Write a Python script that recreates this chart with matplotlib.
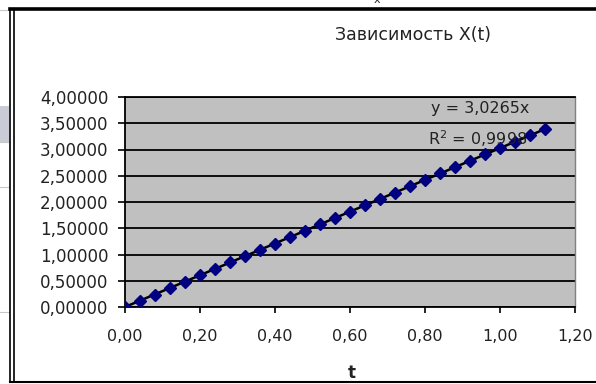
import matplotlib
matplotlib.use("Agg")
import matplotlib.pyplot as plt
from matplotlib.lines import Line2D
from matplotlib.patches import Rectangle

plt.rcParams["font.family"] = ["DejaVu Sans"]

# измерения: время и координата
t = [0.00, 0.04, 0.08, 0.12, 0.16, 0.20, 0.24, 0.28, 0.32, 0.36,
     0.40, 0.44, 0.48, 0.52, 0.56, 0.60, 0.64, 0.68, 0.72, 0.76,
     0.80, 0.84, 0.88, 0.92, 0.96, 1.00, 1.04, 1.08, 1.12]
x = [0.000, 0.118, 0.236, 0.365, 0.482, 0.604, 0.722, 0.848, 0.968, 1.092,
     1.206, 1.334, 1.452, 1.576, 1.694, 1.818, 1.938, 2.056, 2.178, 2.302,
     2.420, 2.546, 2.664, 2.786, 2.908, 3.025, 3.146, 3.272, 3.390]
slope = 3.0265
r2 = "0,9998"
x_ticks = [0.0, 0.2, 0.4, 0.6, 0.8, 1.0, 1.2]
y_ticks = [0.0, 0.5, 1.0, 1.5, 2.0, 2.5, 3.0, 3.5, 4.0]

W, H = 596, 384
TXT = "#222222"
fig = plt.figure(figsize=(W / 100, H / 100), dpi=100)
fig.patch.set_facecolor("white")


def px(x0, y0):
    return x0 / W, 1 - y0 / H


# кусок таблицы слева
for yy in [10, 142, 187, 312]:
    fig.add_artist(Line2D([0, 9 / W], [1 - yy / H] * 2, color="#c8c8c8", lw=0.8))
fig.add_artist(Rectangle(px(0, 142), 9 / W, 36 / H, color="#c9cbd6", lw=0))
fig.text(*px(377, 0), "x", fontsize=8, ha="center", va="center", color=TXT)

# рамка диаграммы
fig.add_artist(Line2D([10 / W, 1], [1 - 9 / H] * 2, color="black", lw=2.6))
fig.add_artist(Line2D([10 / W, 1], [1 - 382 / H] * 2, color="black", lw=1.5))
for xx in [10, 13.5]:
    fig.add_artist(Line2D([xx / W] * 2, [1 - 9 / H, 1 - 382 / H], color="black", lw=1.2))

ax = fig.add_axes([125 / W, 1 - 307 / H, 450 / W, 210 / H])
ax.set_facecolor("#c0c0c0")
ax.set_xlim(0, 1.2)
ax.set_ylim(0, 4)
ax.set_xticks(x_ticks)
ax.set_yticks(y_ticks)
ax.set_xticklabels([f"{v:.2f}".replace(".", ",") for v in x_ticks], fontsize=11.5, color=TXT)
ax.set_yticklabels([f"{v:.5f}".replace(".", ",") for v in y_ticks], fontsize=12, color=TXT)
ax.tick_params(axis="both", direction="out", width=1.2, color="black")
ax.tick_params(axis="x", length=4, pad=12)
ax.tick_params(axis="y", length=5, pad=7)
ax.yaxis.grid(True, color="black", lw=1.3)
ax.set_axisbelow(True)
for s in ["left", "bottom", "top"]:
    ax.spines[s].set_color("black")
    ax.spines[s].set_linewidth(1.3)
ax.spines["right"].set_color("#808080")
ax.spines["right"].set_linewidth(1.0)

# линия тренда и точки
ax.plot([t[0], t[-1]], [slope * t[0], slope * t[-1]], color="black", lw=1.8, zorder=3)
ax.plot(t, x, ls="none", marker="D", ms=6, mfc="#000080", mec="#000080", zorder=4)

fig.text(*px(480, 108), f"y = {slope:.4f}x".replace(".", ","), fontsize=11.5,
         ha="center", va="center", color=TXT, zorder=5)
fig.text(*px(478, 139), f"R$^2$ = {r2}", fontsize=11.5,
         ha="center", va="center", color=TXT, zorder=5)

fig.text(*px(352, 373), "t", fontsize=12, fontweight="bold", ha="center", va="center", color=TXT)
fig.text(*px(413, 35), "Зависимость X(t)", fontsize=12.5, ha="center", va="center", color=TXT)

fig.savefig("out.png", dpi=100, facecolor="white")
